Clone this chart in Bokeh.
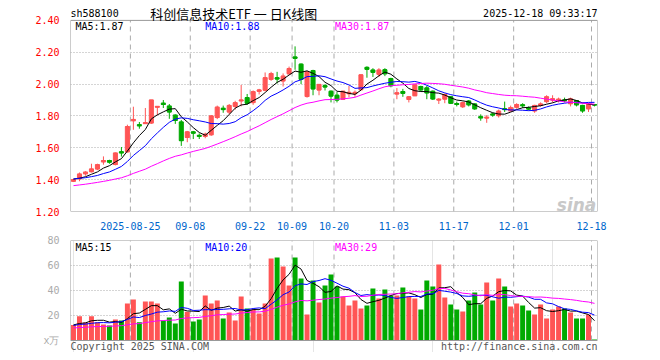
import numpy as np
import pandas as pd
from bokeh.plotting import figure
from bokeh.layouts import column
from bokeh.models import FixedTicker, Label, PrintfTickFormatter, Range1d, ColumnDataSource
from bokeh.embed import file_html
from bokeh.resources import INLINE

# ---------------- data ----------------
holidays = ["2025-10-01", "2025-10-02", "2025-10-03", "2025-10-06", "2025-10-07", "2025-10-08"]
dates = [d.strftime("%Y-%m-%d") for d in pd.bdate_range("2025-08-11", "2025-12-18")
         if d.strftime("%Y-%m-%d") not in holidays]

open_ = [1.39, 1.405, 1.437, 1.45, 1.467, 1.512, 1.52, 1.495, 1.575, 1.575,
         1.77, 1.745, 1.752, 1.756, 1.855, 1.88, 1.862, 1.805, 1.762, 1.665,
         1.70, 1.678, 1.672, 1.682, 1.79, 1.848, 1.825, 1.86, 1.895, 1.915,
         1.884, 1.955, 1.962, 2.03, 2.04, 2.02, 2.065, 2.17, 2.125, 1.922,
         2.085, 1.963, 1.99, 1.955, 1.93, 1.905, 1.94, 1.94, 1.965, 2.105,
         2.088, 2.062, 2.09, 2.035, 1.938, 1.953, 1.904, 1.927, 1.985, 1.976,
         1.955, 1.90, 1.906, 1.92, 1.878, 1.858, 1.893, 1.875, 1.795, 1.787,
         1.812, 1.802, 1.845, 1.832, 1.855, 1.87, 1.85, 1.832, 1.867, 1.89,
         1.90, 1.90, 1.90, 1.877, 1.897, 1.866, 1.845, 1.872]
high = [1.405, 1.445, 1.453, 1.50, 1.50, 1.546, 1.525, 1.57, 1.605, 1.745,
        1.858, 1.762, 1.85, 1.90, 1.862, 1.90, 1.875, 1.81, 1.775, 1.706,
        1.706, 1.69, 1.695, 1.805, 1.865, 1.865, 1.875, 1.895, 1.995, 1.938,
        1.96, 1.97, 2.073, 2.077, 2.077, 2.067, 2.11, 2.237, 2.13, 2.08,
        2.09, 2.0, 2.0, 1.96, 1.95, 1.958, 1.988, 1.96, 2.06, 2.112,
        2.10, 2.10, 2.10, 2.04, 1.975, 1.97, 1.925, 1.998, 1.99, 1.99,
        1.96, 1.912, 1.94, 1.925, 1.89, 1.89, 1.90, 1.88, 1.81, 1.805,
        1.82, 1.84, 1.89, 1.865, 1.88, 1.88, 1.86, 1.87, 1.885, 1.93,
        1.93, 1.915, 1.915, 1.915, 1.90, 1.87, 1.88, 1.875]
low = [1.385, 1.39, 1.425, 1.445, 1.46, 1.494, 1.50, 1.49, 1.545, 1.57,
       1.713, 1.72, 1.75, 1.75, 1.805, 1.85, 1.782, 1.75, 1.612, 1.635,
       1.655, 1.655, 1.66, 1.675, 1.78, 1.82, 1.81, 1.84, 1.86, 1.87,
       1.87, 1.935, 1.955, 2.02, 2.004, 1.985, 2.06, 2.09, 2.00, 1.915,
       1.93, 1.93, 1.96, 1.885, 1.885, 1.90, 1.917, 1.92, 1.96, 2.04,
       2.045, 2.045, 2.05, 1.98, 1.905, 1.92, 1.885, 1.925, 1.955, 1.905,
       1.90, 1.875, 1.88, 1.875, 1.86, 1.85, 1.86, 1.838, 1.77, 1.757,
       1.795, 1.79, 1.825, 1.828, 1.845, 1.85, 1.835, 1.82, 1.858, 1.88,
       1.885, 1.885, 1.885, 1.86, 1.86, 1.82, 1.825, 1.86]
close = [1.40, 1.435, 1.447, 1.467, 1.494, 1.52, 1.51, 1.567, 1.568, 1.733,
         1.778, 1.738, 1.758, 1.90, 1.86, 1.872, 1.825, 1.772, 1.645, 1.70,
         1.692, 1.672, 1.685, 1.80, 1.855, 1.84, 1.866, 1.883, 1.90, 1.88,
         1.952, 1.963, 2.04, 2.066, 2.032, 2.05, 2.098, 2.162, 2.03, 2.077,
         1.97, 1.998, 1.982, 1.925, 1.90, 1.955, 1.948, 1.948, 2.058, 2.093,
         2.074, 2.088, 2.065, 1.99, 1.945, 1.942, 1.92, 1.995, 1.964, 1.945,
         1.907, 1.905, 1.935, 1.88, 1.872, 1.883, 1.87, 1.845, 1.788, 1.792,
         1.806, 1.83, 1.84, 1.852, 1.872, 1.864, 1.843, 1.866, 1.875, 1.92,
         1.908, 1.905, 1.895, 1.907, 1.87, 1.832, 1.873, 1.868]
volume = [12.5, 19.5, 14.5, 19.5, 14.7, 12.8, 12, 16.8, 16, 29.6,
          32.8, 14.7, 31.2, 31.2, 29.6, 16, 18.4, 13.6, 47.2, 23,
          15.2, 16.8, 36, 29.6, 32, 17.6, 22.4, 16, 35.2, 25.6,
          24.8, 21.6, 29.6, 65.6, 66.4, 59.2, 44, 66.4, 49.6, 20.8,
          48, 30.4, 44, 52.8, 43.2, 35.2, 28, 32, 25.6, 28,
          41.6, 33.6, 40.8, 36, 36, 42.4, 35.2, 33.6, 24.8, 48,
          43.2, 60.8, 34.4, 28.8, 24.8, 23.2, 32, 38.4, 28.8, 46.4,
          32, 49.6, 43.2, 27.2, 29.6, 28, 24, 20.8, 28.8, 17.6,
          24.8, 27.2, 25.6, 22.4, 17.6, 17.6, 20.8, 0.8]
# closes / volumes of the 29 sessions before the window (estimated from the MA lines)
prior_close = [1.30, 1.31, 1.30, 1.32, 1.33, 1.31, 1.32, 1.34, 1.35, 1.33,
               1.34, 1.36, 1.35, 1.37, 1.36, 1.35, 1.37, 1.38, 1.36, 1.38,
               1.39, 1.41, 1.40, 1.42, 1.40, 1.41, 1.40, 1.39, 1.42]
prior_volume = [8, 9, 7, 10, 9, 8, 11, 9, 8, 10, 9, 7, 9, 10, 8, 9, 11, 10, 9, 9,
                11, 12, 13, 10, 11.5, 14, 12, 11, 13]

tick_dates = ["2025-08-25", "2025-09-08", "2025-09-22", "2025-10-09", "2025-10-20",
              "2025-11-03", "2025-11-17", "2025-12-01", "2025-12-18"]
tick_labels = ["2025-08-25", "09-08", "09-22", "10-09", "10-20", "11-03", "11-17", "12-01", "12-18"]
price_ticks = [1.20, 1.40, 1.60, 1.80, 2.00, 2.20, 2.40]
vol_ticks = [0, 20, 40, 60, 80]
vol_unit = "x万"
ma_periods = [5, 10, 30]
price_ma_text = ["MA5:1.87", "MA10:1.88", "MA30:1.87"]
vol_ma_text = ["MA5:15", "MA10:20", "MA30:29"]
header_code = "sh588100"
header_title = "科创信息技术ETF 一 日K线图"
header_time = "2025-12-18 09:33:17"
copyright_text = "Copyright 2025 SINA.COM"
url_text = "http://finance.sina.com.cn"

# ---------------- derived ----------------
n = len(dates)
x = np.arange(n)
RED, GREEN = "#ff5555", "#00aa00"
ma_colors = ["#000000", "#0000ff", "#ff00ff"]
colors = [RED if c >= o else GREEN for o, c in zip(open_, close)]
all_close = pd.Series(prior_close + close)
all_vol = pd.Series(prior_volume + volume)
price_ma = [all_close.rolling(k).mean().values[-n:] for k in ma_periods]
vol_ma = [all_vol.rolling(k).mean().values[-n:] for k in ma_periods]
grid_pos = [dates.index(d) - 0.5 for d in tick_dates]

src = ColumnDataSource(dict(
    x=x, o=open_, h=high, l=low, c=close, v=volume, color=colors,
    top=np.maximum(open_, close), bot=np.minimum(open_, close),
    xl=x - 0.34, xr=x + 0.34,
))

MONO = "DejaVu Sans Mono"
GRID = "#aaaaaa"
FRAME = "#999999"
X0, X1 = -0.5, n - 0.5
PX_PRICE = (price_ticks[-1] - price_ticks[0]) / 192.0   # price units per pixel
PX_VOL = (vol_ticks[-1] - vol_ticks[0]) / 100.0          # volume units per pixel

xr = Range1d(X0, X1)

def lab(p, x_, y_, text, color, align="left", font=MONO, size="10px", style="normal", baseline="middle"):
    p.add_layout(Label(x=x_, y=y_, text=text, text_color=color, text_align=align,
                       text_baseline=baseline, text_font=font, text_font_size=size,
                       text_font_style=style))

def style_axis(ax, color):
    ax.axis_line_color = None
    ax.major_tick_line_color = None
    ax.minor_tick_line_color = None
    ax.major_label_text_font = MONO
    ax.major_label_text_font_size = "10px"
    ax.major_label_text_color = color

# ---------------- price panel (frame extends up to hold the header) ----------------
p1 = figure(width=652, height=232, x_range=xr,
            y_range=Range1d(price_ticks[0], price_ticks[-1] + 20 * PX_PRICE),
            output_backend="svg", toolbar_location=None,
            min_border_left=70, min_border_right=55, min_border_top=0, min_border_bottom=20)
p1.outline_line_color = None
p1.xgrid.visible = False
p1.ygrid.ticker = FixedTicker(ticks=price_ticks[1:-1])
p1.ygrid.grid_line_color = GRID
p1.ygrid.grid_line_dash = "1 2"
p1.yaxis.ticker = FixedTicker(ticks=price_ticks)
p1.yaxis.formatter = PrintfTickFormatter(format="%.2f")
p1.xaxis.ticker = FixedTicker(ticks=grid_pos)
p1.xaxis.major_label_overrides = {g: t for g, t in zip(grid_pos, tick_labels)}
style_axis(p1.yaxis[0], "#ff0000")
style_axis(p1.xaxis[0], "#0066cc")
p1.yaxis.major_label_standoff = 5
p1.xaxis.major_label_standoff = 4

# vertical dashed date lines and panel frame
p1.segment(x0=grid_pos, y0=price_ticks[0], x1=grid_pos, y1=price_ticks[-1],
           line_color=GRID, line_dash="5 4", line_width=1)
p1.quad(left=X0, right=X1, bottom=price_ticks[0], top=price_ticks[-1],
        fill_color=None, line_color=FRAME, line_width=1)

p1.segment(x0="x", y0="l", x1="x", y1="h", line_color="color", line_width=1, source=src)
p1.vbar(x="x", width=0.68, top="top", bottom="bot", fill_color="color", line_color="color",
        line_width=1, source=src)
p1.segment(x0="xl", y0="c", x1="xr", y1="c", line_color="color", line_width=1, source=src)
p1.segment(x0="xl", y0="o", x1="xr", y1="o", line_color="color", line_width=1, source=src)
for ma, col in zip(price_ma, ma_colors):
    p1.line(x, ma, line_color=col, line_width=1)

for xpos, t, col in zip([0.33, 22.0, 43.67], price_ma_text, ma_colors):
    lab(p1, xpos, price_ticks[-1] - 6.5 * PX_PRICE, t, col)
hy = price_ticks[-1] + 6.5 * PX_PRICE
lab(p1, X0, hy, header_code, "#000000")
lab(p1, 12.83, hy, header_title, "#000000", font="Noto Sans CJK SC", size="13px")
lab(p1, X1, hy, header_time, "#000000", align="right")
lab(p1, X1 - 0.2, price_ticks[0] + 7 * PX_PRICE, "sina", "#c8c8c8", align="right",
    font="DejaVu Sans", size="17px", style="bold italic", baseline="alphabetic")

# ---------------- volume panel (frame extends down to hold the footer) ----------------
p2 = figure(width=652, height=120, x_range=xr,
            y_range=Range1d(vol_ticks[0] - 12 * PX_VOL, vol_ticks[-1]),
            output_backend="svg", toolbar_location=None, x_axis_location=None,
            min_border_left=70, min_border_right=55, min_border_top=8, min_border_bottom=0)
p2.outline_line_color = None
p2.ygrid.ticker = FixedTicker(ticks=vol_ticks[1:-1])
p2.ygrid.grid_line_color = GRID
p2.ygrid.grid_line_dash = "1 2"
p2.yaxis.ticker = FixedTicker(ticks=vol_ticks)
p2.yaxis.major_label_overrides = {0: vol_unit}
style_axis(p2.yaxis[0], "#aaaaaa")
p2.yaxis.major_label_standoff = 5

p2.segment(x0=grid_pos, y0=vol_ticks[0], x1=grid_pos, y1=vol_ticks[-1],
           line_color=GRID, line_dash="5 4", line_width=1)
p2.vbar(x="x", width=0.83, top="v", bottom=0, fill_color="color", line_color=None, source=src)
p2.quad(left=X0, right=X1, bottom=vol_ticks[0], top=vol_ticks[-1],
        fill_color=None, line_color=FRAME, line_width=1)
for ma, col in zip(vol_ma, ma_colors):
    p2.line(x, ma, line_color=col, line_width=1)
for xpos, t, col in zip([0.33, 22.0, 43.67], vol_ma_text, ma_colors):
    lab(p2, xpos, vol_ticks[-1] - 6.5 * PX_VOL, t, col)
fy = vol_ticks[0] - 5.5 * PX_VOL
lab(p2, X0, fy, copyright_text, "#555555")
lab(p2, X1, fy, url_text, "#555555", align="right")

layout = column(p1, p2, spacing=0)
open("out.html", "w").write(file_html(layout, INLINE))
